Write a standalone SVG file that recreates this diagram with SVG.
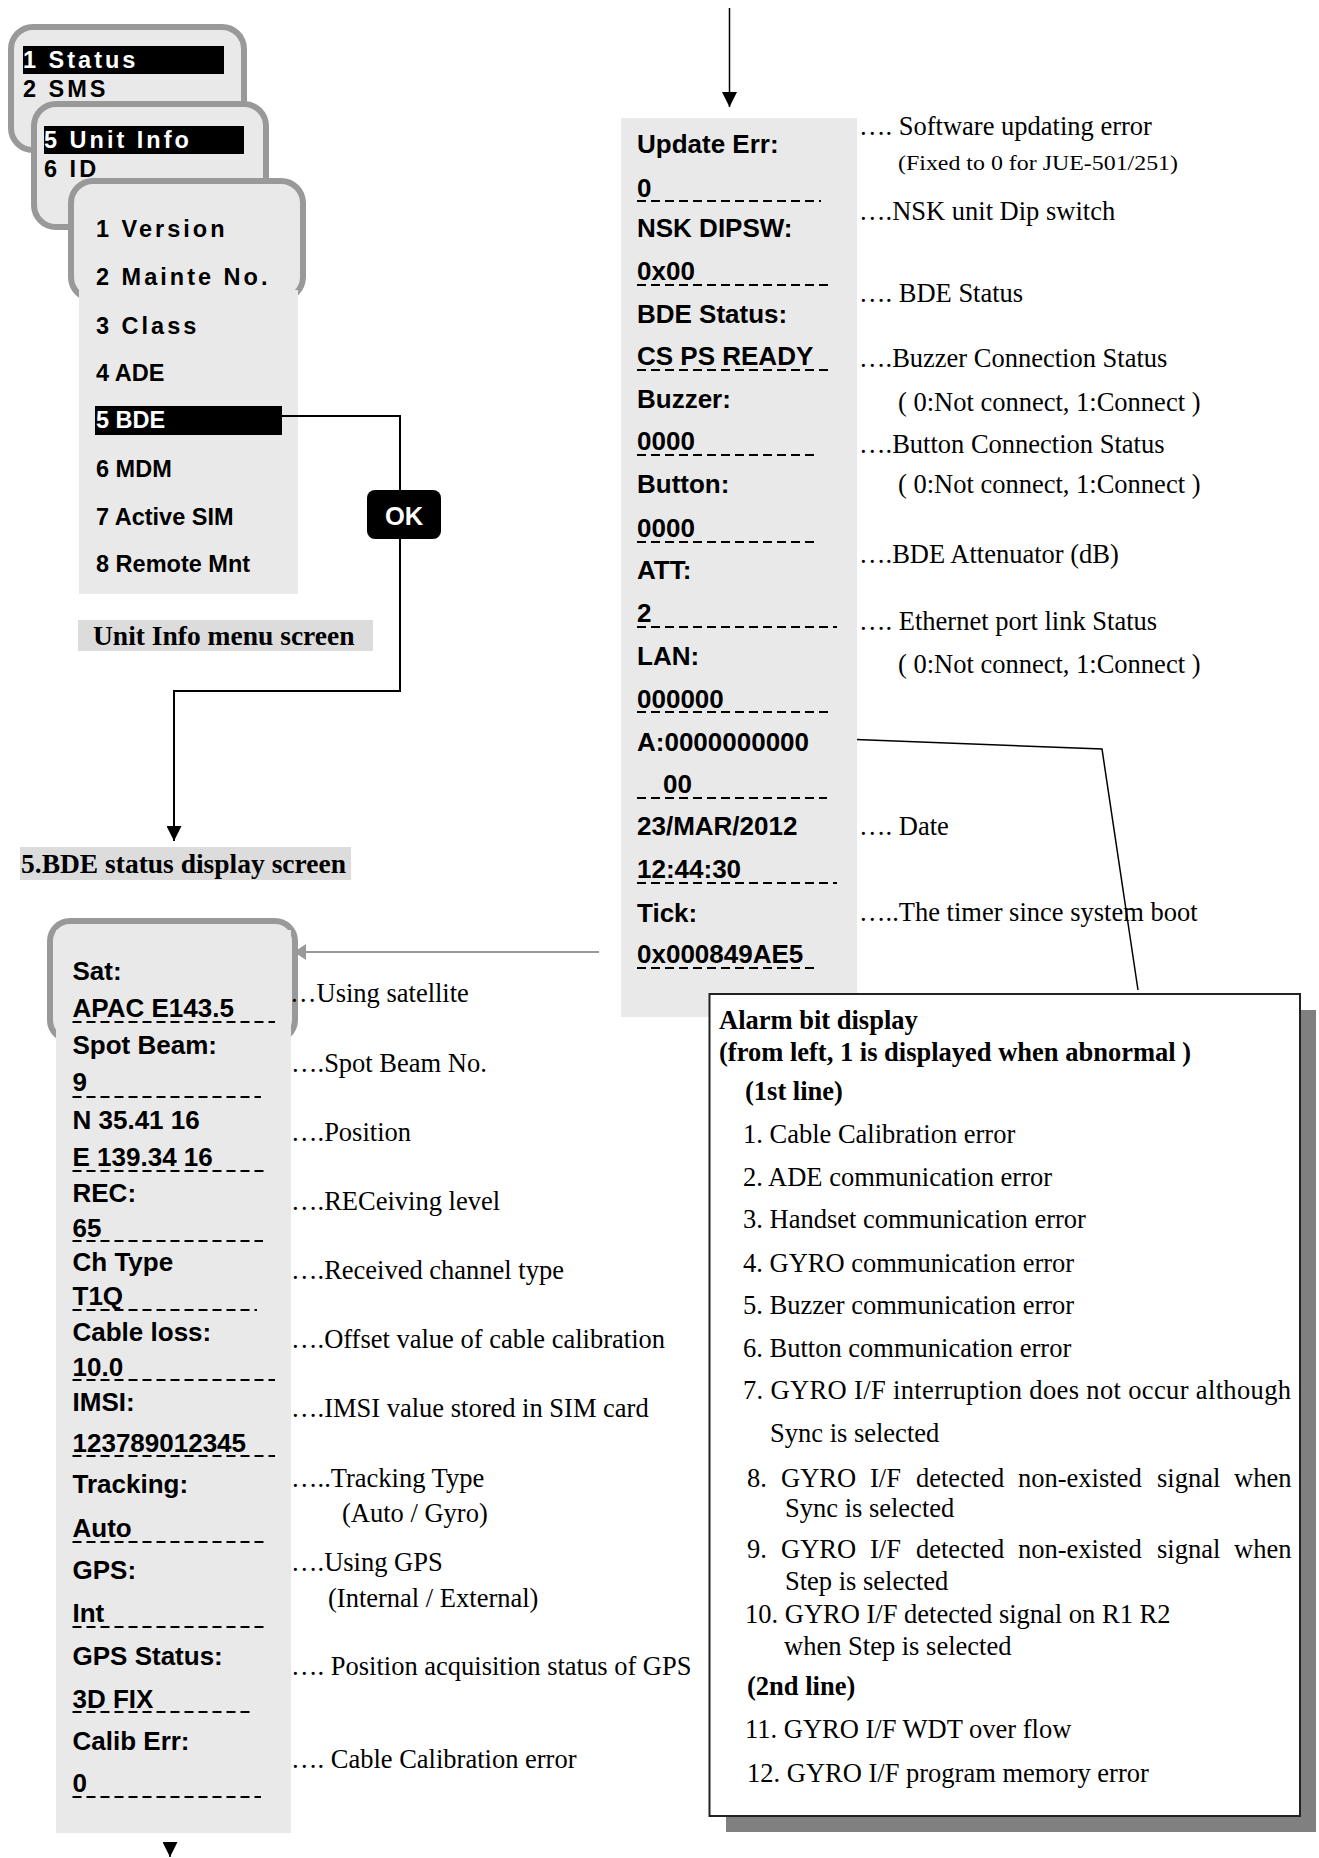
<svg xmlns="http://www.w3.org/2000/svg" width="1319" height="1858" viewBox="0 0 1319 1858">
<style>
.bez{fill:#e9e9e9;stroke:#999;stroke-width:6}
.scr{fill:#e9e9e9}
.cap{fill:#dcdcdc}
.hl{fill:#000}
.menu{font-family:"Liberation Sans",Arial,sans-serif;font-weight:bold;font-size:23.5px;fill:#000}
.sp{letter-spacing:3px}
.wt{fill:#fff}
.lcd{font-family:"Liberation Sans",Arial,sans-serif;font-weight:bold;font-size:26px;fill:#000}
.note{font-family:"Liberation Serif","Times New Roman",serif;font-size:26.5px;fill:#000}
.sm{font-size:22px}
.b{font-weight:bold}
.ttl{font-family:"Liberation Serif","Times New Roman",serif;font-weight:bold;font-size:27.5px;fill:#000}
.dash{stroke:#000;stroke-width:2;stroke-dasharray:9 5;fill:none}
.wire{stroke:#000;stroke-width:2;fill:none}
.thin{stroke:#000;stroke-width:1.5;fill:none}
.gw{stroke:#999;stroke-width:2;fill:none}
</style>
<defs>
<marker id="ah" markerUnits="userSpaceOnUse" markerWidth="15" markerHeight="15" refX="15" refY="7.5" orient="auto"><path d="M0,0 L15,7.5 L0,15 Z" fill="#000"/></marker>
<marker id="ahg" markerUnits="userSpaceOnUse" markerWidth="12" markerHeight="16" refX="12" refY="8" orient="auto"><path d="M0,0 L12,8 L0,16 Z" fill="#999"/></marker>
</defs>

<g id="menu-main">
<rect class="bez" x="11" y="27" width="233" height="123" rx="22"/>
<rect class="hl" x="23" y="46" width="201" height="28"/>
<text class="menu sp wt" x="23" y="68">1 Status</text>
<text class="menu sp" x="23" y="97">2 SMS</text>
</g>

<g id="menu-sub">
<rect class="bez" x="34" y="104" width="232" height="123" rx="22"/>
<rect class="hl" x="44" y="126" width="200" height="28"/>
<text class="menu sp wt" x="44" y="148">5 Unit Info</text>
<text class="menu sp" x="44" y="177">6 ID</text>
</g>

<g id="menu-unitinfo">
<rect class="bez" x="71" y="181" width="232" height="118" rx="22"/>
<rect class="scr" x="79" y="290" width="219" height="304"/>
<text class="menu sp" x="96" y="237">1 Version</text>
<text class="menu sp" x="96" y="285">2 Mainte No.</text>
<text class="menu sp" x="96" y="334">3 Class</text>
<text class="menu" x="96" y="381">4 ADE</text>
<rect class="hl" x="95" y="406" width="187" height="29"/>
<text class="menu wt" x="96" y="428">5 BDE</text>
<text class="menu" x="96" y="477">6 MDM</text>
<text class="menu" x="96" y="525">7 Active SIM</text>
<text class="menu" x="96" y="572">8 Remote Mnt</text>
</g>

<g id="caption-unitinfo">
<rect class="cap" x="78" y="620" width="295" height="31"/>
<text class="ttl" x="93" y="645">Unit Info menu screen</text>
</g>

<g id="caption-bde">
<rect class="cap" x="20" y="847" width="331" height="33"/>
<text class="ttl" x="21" y="873">5.BDE status display screen</text>
</g>

<g id="connectors">
<line class="thin" x1="729.5" y1="8" x2="729.5" y2="107" marker-end="url(#ah)"/>
<polyline class="wire" points="282,416 400,416 400,691 174,691 174,841" marker-end="url(#ah)"/>
<polyline class="thin" points="843,739 1102,749 1138,990"/>
<line class="gw" x1="599" y1="952" x2="294" y2="952" marker-end="url(#ahg)"/>
<line class="thin" x1="170" y1="1842" x2="170" y2="1857" marker-end="url(#ah)"/>
</g>

<g id="ok-button">
<rect x="367" y="490" width="74" height="49" rx="8" fill="#000"/>
<text class="menu wt" x="404" y="525" text-anchor="middle" style="font-size:25.5px">OK</text>
</g>

<g id="bde-screen-1">
<rect class="scr" x="621" y="118" width="236" height="899"/>
<text class="lcd" x="637" y="153">Update Err:</text>
<text class="lcd" x="637" y="197">0</text>
<line class="dash" x1="637" y1="201" x2="821" y2="201"/>
<text class="lcd" x="637" y="237">NSK DIPSW:</text>
<text class="lcd" x="637" y="280">0x00</text>
<line class="dash" x1="637" y1="285" x2="830" y2="285"/>
<text class="lcd" x="637" y="323">BDE Status:</text>
<text class="lcd" x="637" y="365">CS PS READY</text>
<line class="dash" x1="637" y1="370" x2="830" y2="370"/>
<text class="lcd" x="637" y="408">Buzzer:</text>
<text class="lcd" x="637" y="450">0000</text>
<line class="dash" x1="637" y1="455" x2="816" y2="455"/>
<text class="lcd" x="637" y="493">Button:</text>
<text class="lcd" x="637" y="537">0000</text>
<line class="dash" x1="637" y1="542" x2="816" y2="542"/>
<text class="lcd" x="637" y="579">ATT:</text>
<text class="lcd" x="637" y="622">2</text>
<line class="dash" x1="637" y1="627" x2="837" y2="627"/>
<text class="lcd" x="637" y="665">LAN:</text>
<text class="lcd" x="637" y="708">000000</text>
<line class="dash" x1="637" y1="712" x2="832" y2="712"/>
<text class="lcd" x="637" y="751">A:0000000000</text>
<text class="lcd" x="663" y="793">00</text>
<line class="dash" x1="637" y1="798" x2="827" y2="798"/>
<text class="lcd" x="637" y="835">23/MAR/2012</text>
<text class="lcd" x="637" y="878">12:44:30</text>
<line class="dash" x1="637" y1="883" x2="837" y2="883"/>
<text class="lcd" x="637" y="922">Tick:</text>
<text class="lcd" x="637" y="963">0x000849AE5</text>
<line class="dash" x1="637" y1="968" x2="819" y2="968"/>
</g>

<g id="notes-1">
<text class="note" x="859" y="135">…. Software updating error</text>
<text class="note sm" x="898" y="170" textLength="280" lengthAdjust="spacingAndGlyphs">(Fixed to 0 for JUE-501/251)</text>
<text class="note" x="859" y="220">….NSK unit Dip switch</text>
<text class="note" x="859" y="302">…. BDE Status</text>
<text class="note" x="859" y="367">….Buzzer Connection Status</text>
<text class="note" x="898" y="411">( 0:Not connect, 1:Connect )</text>
<text class="note" x="859" y="453">….Button Connection Status</text>
<text class="note" x="898" y="493">( 0:Not connect, 1:Connect )</text>
<text class="note" x="859" y="563">….BDE Attenuator (dB)</text>
<text class="note" x="859" y="630">…. Ethernet port link Status</text>
<text class="note" x="898" y="673">( 0:Not connect, 1:Connect )</text>
<text class="note" x="859" y="835">…. Date</text>
<text class="note" x="859" y="921">…..The timer since system boot</text>
</g>

<g id="bde-screen-2">
<rect class="bez" x="50" y="921" width="245" height="119" rx="20"/>
<rect class="scr" x="56" y="930" width="235" height="903"/>
<text class="lcd" x="72.5" y="980">Sat:</text>
<text class="lcd" x="72.5" y="1017">APAC E143.5</text>
<line class="dash" x1="72.5" y1="1022" x2="275" y2="1022"/>
<text class="lcd" x="72.5" y="1054">Spot Beam:</text>
<text class="lcd" x="72.5" y="1091">9</text>
<line class="dash" x1="72.5" y1="1097" x2="261" y2="1097"/>
<text class="lcd" x="72.5" y="1129">N 35.41 16</text>
<text class="lcd" x="72.5" y="1166">E 139.34 16</text>
<line class="dash" x1="72.5" y1="1171" x2="266" y2="1171"/>
<text class="lcd" x="72.5" y="1202">REC:</text>
<text class="lcd" x="72.5" y="1237">65</text>
<line class="dash" x1="72.5" y1="1241" x2="263" y2="1241"/>
<text class="lcd" x="72.5" y="1271">Ch Type</text>
<text class="lcd" x="72.5" y="1305">T1Q</text>
<line class="dash" x1="72.5" y1="1310" x2="257" y2="1310"/>
<text class="lcd" x="72.5" y="1341">Cable loss:</text>
<text class="lcd" x="72.5" y="1376">10.0</text>
<line class="dash" x1="72.5" y1="1380" x2="275" y2="1380"/>
<text class="lcd" x="72.5" y="1411">IMSI:</text>
<text class="lcd" x="72.5" y="1452">123789012345</text>
<line class="dash" x1="72.5" y1="1456" x2="275" y2="1456"/>
<text class="lcd" x="72.5" y="1493">Tracking:</text>
<text class="lcd" x="72.5" y="1537">Auto</text>
<line class="dash" x1="72.5" y1="1542" x2="266" y2="1542"/>
<text class="lcd" x="72.5" y="1579">GPS:</text>
<text class="lcd" x="72.5" y="1622">Int</text>
<line class="dash" x1="72.5" y1="1627" x2="266" y2="1627"/>
<text class="lcd" x="72.5" y="1665">GPS Status:</text>
<text class="lcd" x="72.5" y="1708">3D FIX</text>
<line class="dash" x1="72.5" y1="1712" x2="250" y2="1712"/>
<text class="lcd" x="72.5" y="1750">Calib Err:</text>
<text class="lcd" x="72.5" y="1792">0</text>
<line class="dash" x1="72.5" y1="1797" x2="261" y2="1797"/>
</g>

<g id="notes-2">
<text class="note" x="290" y="1002">…Using satellite</text>
<text class="note" x="291" y="1072">….Spot Beam No.</text>
<text class="note" x="291" y="1141">….Position</text>
<text class="note" x="291" y="1210">….RECeiving level</text>
<text class="note" x="291" y="1279">….Received channel type</text>
<text class="note" x="291" y="1348">….Offset value of cable calibration</text>
<text class="note" x="291" y="1417">….IMSI value stored in SIM card</text>
<text class="note" x="291" y="1487">…..Tracking Type</text>
<text class="note" x="342" y="1522">(Auto / Gyro)</text>
<text class="note" x="291" y="1571">….Using GPS</text>
<text class="note" x="328" y="1607">(Internal / External)</text>
<text class="note" x="291" y="1675">…. Position acquisition status of GPS</text>
<text class="note" x="291" y="1768">…. Cable Calibration error</text>
</g>

<g id="alarm-box">
<rect x="726" y="1010" width="590" height="822" fill="#808080"/>
<rect x="709.5" y="994" width="590.5" height="822" fill="#fff" stroke="#222" stroke-width="2"/>
<text class="note b" x="719" y="1029">Alarm bit display</text>
<text class="note b" x="719" y="1061">(from left, 1 is displayed when abnormal )</text>
<text class="note b" x="745" y="1100">(1st line)</text>
<text class="note" x="743" y="1143">1. Cable Calibration error</text>
<text class="note" x="743" y="1186">2. ADE communication error</text>
<text class="note" x="743" y="1228">3. Handset communication error</text>
<text class="note" x="743" y="1272">4. GYRO communication error</text>
<text class="note" x="743" y="1314">5. Buzzer communication error</text>
<text class="note" x="743" y="1357">6. Button communication error</text>
<text class="note" x="743" y="1399" textLength="548" lengthAdjust="spacing">7. GYRO I/F interruption does not occur although</text>
<text class="note" x="770" y="1442">Sync is selected</text>
<text class="note" y="1487"><tspan x="747">8.</tspan><tspan x="781">GYRO</tspan><tspan x="870">I/F</tspan><tspan x="916">detected</tspan><tspan x="1018">non-existed</tspan><tspan x="1157">signal</tspan><tspan x="1234">when</tspan></text>
<text class="note" x="785" y="1517">Sync is selected</text>
<text class="note" y="1558"><tspan x="747">9.</tspan><tspan x="781">GYRO</tspan><tspan x="870">I/F</tspan><tspan x="916">detected</tspan><tspan x="1018">non-existed</tspan><tspan x="1157">signal</tspan><tspan x="1234">when</tspan></text>
<text class="note" x="785" y="1590">Step is selected</text>
<text class="note" x="745" y="1623">10. GYRO I/F detected signal on R1 R2</text>
<text class="note" x="784" y="1655">when Step is selected</text>
<text class="note b" x="747" y="1695">(2nd line)</text>
<text class="note" x="745" y="1738">11. GYRO I/F WDT over flow</text>
<text class="note" x="747" y="1782">12. GYRO I/F program memory error</text>
</g>
</svg>
